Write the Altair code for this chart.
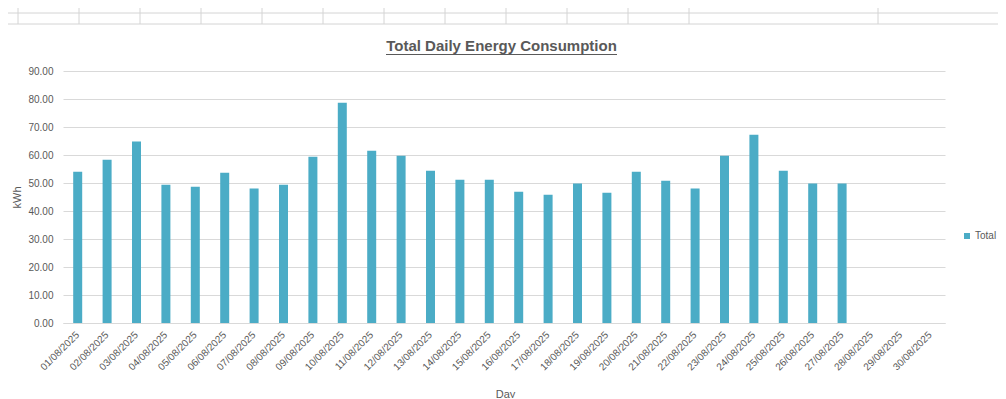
import altair as alt
import pandas as pd

days = [f"{d:02d}/08/2025" for d in range(1, 31)]
kwh = [54.0, 58.3, 64.8, 49.4, 48.7, 53.7, 48.0, 49.4, 59.4, 78.7,
       61.5, 59.7, 54.4, 51.2, 51.2, 46.9, 45.8, 49.8, 46.5, 54.0,
       50.8, 48.0, 59.7, 67.2, 54.4, 49.8, 49.8, None, None, None]
series = ["Total"] * 30
y_ticks = [0, 10, 20, 30, 40, 50, 60, 70, 80, 90]

TEXT = "#595959"
FONT = "Liberation Sans"
W, H = 882, 252

df = pd.DataFrame({"Day": days, "kWh": kwh, "Series": series})

bars = alt.Chart(df).mark_bar(size=9, color="#4BACC6").encode(
    x=alt.X("Day:N", sort=None,
            scale=alt.Scale(domain=days, paddingInner=0, paddingOuter=0),
            axis=alt.Axis(title="Day", labelAngle=-45, labelAlign="right",
                          labelBaseline="middle", labelPadding=10,
                          labelFontSize=10, labelColor=TEXT, labelFont=FONT,
                          ticks=False, domainColor="#D9D9D9", grid=False,
                          titleFont=FONT, titleFontSize=11, titleColor=TEXT,
                          titleFontWeight="normal", titleX=442, titleY=65,
                          titleBaseline="top", titleAlign="center")),
    y=alt.Y("kWh:Q", scale=alt.Scale(domain=[0, 90], nice=False),
            axis=alt.Axis(title="kWh", values=y_ticks, format=".2f",
                          labelFontSize=10, labelColor=TEXT, labelFont=FONT,
                          labelPadding=10, ticks=False, domain=False,
                          gridColor="#D9D9D9", gridWidth=1,
                          titleFont=FONT, titleFontSize=11, titleColor=TEXT,
                          titleFontWeight="normal", titleX=-41, titleY=126,
                          titleAngle=-90, titleBaseline="bottom",
                          titleAlign="center")),
    fill=alt.Fill("Series:N", scale=alt.Scale(range=["#4BACC6"]),
                  legend=alt.Legend(title=None, orient="none", legendX=899,
                                    legendY=160, symbolType="square",
                                    symbolSize=36, symbolStrokeWidth=0,
                                    labelFont=FONT, labelFontSize=10,
                                    labelColor=TEXT, labelOffset=3)),
)

# spreadsheet cell grid visible above the chart
col_lines = pd.DataFrame({"gx": [18, 79, 140, 201, 262, 323, 384, 445, 506,
                                 567, 628, 689, 878]})
row_lines = pd.DataFrame({"gy": [13, 24]})

vlines = alt.Chart(col_lines).mark_rule(color="#D4D4D4", strokeWidth=1).encode(
    x=alt.X("px:Q", scale=None, axis=None),
    y=alt.value(-71), y2=alt.value(-47),
).transform_calculate(px="datum.gx - 63")

hlines = alt.Chart(row_lines).mark_rule(color="#D4D4D4", strokeWidth=1).encode(
    y=alt.Y("py:Q", scale=None, axis=None),
    x=alt.value(-63), x2=alt.value(W + 60),
).transform_calculate(py="datum.gy - 71")

title = alt.Chart(pd.DataFrame({"t": ["Total Daily Energy Consumption"]})).mark_text(
    font=FONT, fontSize=15, fontWeight="bold", color=TEXT,
    align="center", baseline="alphabetic"
).encode(text="t:N", x=alt.value(438.5), y=alt.value(-20))

underline = alt.Chart(pd.DataFrame({"u": [1]})).mark_rule(
    color=TEXT, strokeWidth=1
).encode(x=alt.value(323), x2=alt.value(554), y=alt.value(-16.5))

chart = alt.layer(bars, vlines, hlines, title, underline).resolve_scale(
    x="independent", y="independent"
).properties(
    width=W, height=H,
    autosize=alt.AutoSizeParams(type="none"),
    padding={"left": 55, "top": 63, "right": 53, "bottom": 75},
).configure_view(stroke=None)

chart.save("out.html", embed_options={"renderer": "svg", "actions": False})
